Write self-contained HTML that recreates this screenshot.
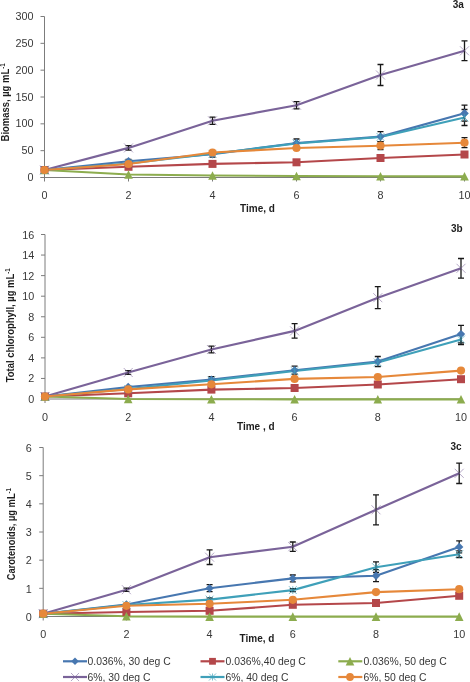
<!DOCTYPE html><html><head><meta charset="utf-8"><style>html,body{margin:0;padding:0;background:#fff;overflow:hidden}svg{display:block;filter:blur(0.4px)}</style></head><body>
<svg width="470" height="682" viewBox="0 0 470 682" font-family='"Liberation Sans", sans-serif'>
<rect width="470" height="682" fill="#fff"/>
<g stroke="#7c7c7c" stroke-width="1" fill="none">
<path d="M44.5 16.5V177.5"/>
<path d="M40.5 177.5H464.5"/>
<path d="M40.5 16.50H44.5"/>
<path d="M40.5 43.33H44.5"/>
<path d="M40.5 70.17H44.5"/>
<path d="M40.5 97.00H44.5"/>
<path d="M40.5 123.83H44.5"/>
<path d="M40.5 150.67H44.5"/>
<path d="M40.5 177.50H44.5"/>
<path d="M44.50 177.5V181.5"/>
<path d="M128.50 177.5V181.5"/>
<path d="M212.50 177.5V181.5"/>
<path d="M296.50 177.5V181.5"/>
<path d="M380.50 177.5V181.5"/>
<path d="M464.50 177.5V181.5"/>
</g>
<g font-size="10.8" fill="#383838">
<text x="33.5" y="181.10" text-anchor="end">0</text>
<text x="33.5" y="154.27" text-anchor="end">50</text>
<text x="33.5" y="127.43" text-anchor="end">100</text>
<text x="33.5" y="100.60" text-anchor="end">150</text>
<text x="33.5" y="73.77" text-anchor="end">200</text>
<text x="33.5" y="46.93" text-anchor="end">250</text>
<text x="33.5" y="20.10" text-anchor="end">300</text>
<text x="44.50" y="199.2" text-anchor="middle">0</text>
<text x="128.50" y="199.2" text-anchor="middle">2</text>
<text x="212.50" y="199.2" text-anchor="middle">4</text>
<text x="296.50" y="199.2" text-anchor="middle">6</text>
<text x="380.50" y="199.2" text-anchor="middle">8</text>
<text x="464.50" y="199.2" text-anchor="middle">10</text>
</g>
<text transform="translate(9.0,102.4) rotate(-90) scale(0.946,1)" text-anchor="middle" font-size="10" font-weight="bold" fill="#1e1e1e">Biomass, µg mL<tspan font-size="6.5" dy="-4">-1</tspan></text>
<text x="463.8" y="8.3" text-anchor="end" font-size="10" font-weight="bold" fill="#1e1e1e">3a</text>
<text x="257.5" y="212" text-anchor="middle" font-size="10" font-weight="bold" fill="#1e1e1e">Time, d</text>
<polyline points="44.50,170.00 128.50,161.30 212.50,154.20 296.50,143.00 380.50,136.60 464.50,113.20" fill="none" stroke="#4777B0" stroke-width="2.15" stroke-linejoin="round"/>
<polyline points="44.50,170.00 128.50,166.80 212.50,163.90 296.50,162.30 380.50,158.00 464.50,154.50" fill="none" stroke="#B4474A" stroke-width="2.15" stroke-linejoin="round"/>
<polyline points="44.50,170.00 128.50,174.50 212.50,175.50 296.50,176.00 380.50,176.20 464.50,176.30" fill="none" stroke="#8CAC4E" stroke-width="2.15" stroke-linejoin="round"/>
<polyline points="44.50,170.00 128.50,147.90 212.50,120.80 296.50,105.20 380.50,75.00 464.50,50.80" fill="none" stroke="#7A6399" stroke-width="2.15" stroke-linejoin="round"/>
<polyline points="44.50,170.00 128.50,163.50 212.50,153.80 296.50,143.50 380.50,137.00 464.50,117.50" fill="none" stroke="#3FA0B9" stroke-width="2.15" stroke-linejoin="round"/>
<polyline points="44.50,170.00 128.50,164.00 212.50,152.50 296.50,148.00 380.50,145.70 464.50,142.70" fill="none" stroke="#E6883A" stroke-width="2.15" stroke-linejoin="round"/>
<path d="M128.50 159.30V163.30M125.50 159.30H131.50M125.50 163.30H131.50" stroke="#181818" stroke-width="1.3" fill="none"/>
<path d="M212.50 151.20V157.20M209.50 151.20H215.50M209.50 157.20H215.50" stroke="#181818" stroke-width="1.3" fill="none"/>
<path d="M296.50 139.00V147.00M293.50 139.00H299.50M293.50 147.00H299.50" stroke="#181818" stroke-width="1.3" fill="none"/>
<path d="M380.50 131.60V141.60M377.50 131.60H383.50M377.50 141.60H383.50" stroke="#181818" stroke-width="1.3" fill="none"/>
<path d="M464.50 105.20V121.20M461.50 105.20H467.50M461.50 121.20H467.50" stroke="#181818" stroke-width="1.3" fill="none"/>
<path d="M128.50 145.60V150.20M125.50 145.60H131.50M125.50 150.20H131.50" stroke="#181818" stroke-width="1.3" fill="none"/>
<path d="M212.50 117.20V124.40M209.50 117.20H215.50M209.50 124.40H215.50" stroke="#181818" stroke-width="1.3" fill="none"/>
<path d="M296.50 101.60V108.80M293.50 101.60H299.50M293.50 108.80H299.50" stroke="#181818" stroke-width="1.3" fill="none"/>
<path d="M380.50 64.50V85.50M377.50 64.50H383.50M377.50 85.50H383.50" stroke="#181818" stroke-width="1.3" fill="none"/>
<path d="M464.50 40.90V60.70M461.50 40.90H467.50M461.50 60.70H467.50" stroke="#181818" stroke-width="1.3" fill="none"/>
<path d="M464.50 109.50V125.50M461.50 109.50H467.50M461.50 125.50H467.50" stroke="#181818" stroke-width="1.3" fill="none"/>
<path d="M380.50 141.70V149.70M377.50 141.70H383.50M377.50 149.70H383.50" stroke="#181818" stroke-width="1.3" fill="none"/>
<path d="M464.50 137.70V147.70M461.50 137.70H467.50M461.50 147.70H467.50" stroke="#181818" stroke-width="1.3" fill="none"/>
<path d="M44.50 165.80L48.70 170.00L44.50 174.20L40.30 170.00Z" fill="#4777B0"/>
<path d="M128.50 157.10L132.70 161.30L128.50 165.50L124.30 161.30Z" fill="#4777B0"/>
<path d="M212.50 150.00L216.70 154.20L212.50 158.40L208.30 154.20Z" fill="#4777B0"/>
<path d="M296.50 138.80L300.70 143.00L296.50 147.20L292.30 143.00Z" fill="#4777B0"/>
<path d="M380.50 132.40L384.70 136.60L380.50 140.80L376.30 136.60Z" fill="#4777B0"/>
<path d="M464.50 109.00L468.70 113.20L464.50 117.40L460.30 113.20Z" fill="#4777B0"/>
<rect x="40.50" y="166.00" width="8.00" height="8.00" fill="#B4474A"/>
<rect x="124.50" y="162.80" width="8.00" height="8.00" fill="#B4474A"/>
<rect x="208.50" y="159.90" width="8.00" height="8.00" fill="#B4474A"/>
<rect x="292.50" y="158.30" width="8.00" height="8.00" fill="#B4474A"/>
<rect x="376.50" y="154.00" width="8.00" height="8.00" fill="#B4474A"/>
<rect x="460.50" y="150.50" width="8.00" height="8.00" fill="#B4474A"/>
<path d="M44.50 165.70L48.80 174.30L40.20 174.30Z" fill="#8CAC4E"/>
<path d="M128.50 170.20L132.80 178.80L124.20 178.80Z" fill="#8CAC4E"/>
<path d="M212.50 171.20L216.80 179.80L208.20 179.80Z" fill="#8CAC4E"/>
<path d="M296.50 171.70L300.80 180.30L292.20 180.30Z" fill="#8CAC4E"/>
<path d="M380.50 171.90L384.80 180.50L376.20 180.50Z" fill="#8CAC4E"/>
<path d="M464.50 172.00L468.80 180.60L460.20 180.60Z" fill="#8CAC4E"/>
<path d="M40.00 165.50L49.00 174.50M49.00 165.50L40.00 174.50" stroke="#7A6399" stroke-width="0.8" stroke-opacity="0.7" fill="none"/>
<path d="M124.00 143.40L133.00 152.40M133.00 143.40L124.00 152.40" stroke="#7A6399" stroke-width="0.8" stroke-opacity="0.7" fill="none"/>
<path d="M208.00 116.30L217.00 125.30M217.00 116.30L208.00 125.30" stroke="#7A6399" stroke-width="0.8" stroke-opacity="0.7" fill="none"/>
<path d="M292.00 100.70L301.00 109.70M301.00 100.70L292.00 109.70" stroke="#7A6399" stroke-width="0.8" stroke-opacity="0.7" fill="none"/>
<path d="M376.00 70.50L385.00 79.50M385.00 70.50L376.00 79.50" stroke="#7A6399" stroke-width="0.8" stroke-opacity="0.7" fill="none"/>
<path d="M460.00 46.30L469.00 55.30M469.00 46.30L460.00 55.30" stroke="#7A6399" stroke-width="0.8" stroke-opacity="0.7" fill="none"/>
<path d="M40.60 166.10L48.40 173.90M48.40 166.10L40.60 173.90M44.50 166.10L44.50 173.90" stroke="#3FA0B9" stroke-width="0.85" stroke-opacity="0.8" fill="none"/>
<path d="M124.60 159.60L132.40 167.40M132.40 159.60L124.60 167.40M128.50 159.60L128.50 167.40" stroke="#3FA0B9" stroke-width="0.85" stroke-opacity="0.8" fill="none"/>
<path d="M208.60 149.90L216.40 157.70M216.40 149.90L208.60 157.70M212.50 149.90L212.50 157.70" stroke="#3FA0B9" stroke-width="0.85" stroke-opacity="0.8" fill="none"/>
<path d="M292.60 139.60L300.40 147.40M300.40 139.60L292.60 147.40M296.50 139.60L296.50 147.40" stroke="#3FA0B9" stroke-width="0.85" stroke-opacity="0.8" fill="none"/>
<path d="M376.60 133.10L384.40 140.90M384.40 133.10L376.60 140.90M380.50 133.10L380.50 140.90" stroke="#3FA0B9" stroke-width="0.85" stroke-opacity="0.8" fill="none"/>
<path d="M460.60 113.60L468.40 121.40M468.40 113.60L460.60 121.40M464.50 113.60L464.50 121.40" stroke="#3FA0B9" stroke-width="0.85" stroke-opacity="0.8" fill="none"/>
<circle cx="44.50" cy="170.00" r="4.10" fill="#E6883A"/>
<circle cx="128.50" cy="164.00" r="4.10" fill="#E6883A"/>
<circle cx="212.50" cy="152.50" r="4.10" fill="#E6883A"/>
<circle cx="296.50" cy="148.00" r="4.10" fill="#E6883A"/>
<circle cx="380.50" cy="145.70" r="4.10" fill="#E6883A"/>
<circle cx="464.50" cy="142.70" r="4.10" fill="#E6883A"/>
<g stroke="#7c7c7c" stroke-width="1" fill="none">
<path d="M45.0 234.5V399.0"/>
<path d="M41.0 399.0H461.0"/>
<path d="M41.0 234.50H45.0"/>
<path d="M41.0 255.06H45.0"/>
<path d="M41.0 275.62H45.0"/>
<path d="M41.0 296.19H45.0"/>
<path d="M41.0 316.75H45.0"/>
<path d="M41.0 337.31H45.0"/>
<path d="M41.0 357.88H45.0"/>
<path d="M41.0 378.44H45.0"/>
<path d="M41.0 399.00H45.0"/>
<path d="M45.00 399.0V403.0"/>
<path d="M128.20 399.0V403.0"/>
<path d="M211.40 399.0V403.0"/>
<path d="M294.60 399.0V403.0"/>
<path d="M377.80 399.0V403.0"/>
<path d="M461.00 399.0V403.0"/>
</g>
<g font-size="10.8" fill="#383838">
<text x="34.2" y="403.00" text-anchor="end">0</text>
<text x="34.2" y="382.44" text-anchor="end">2</text>
<text x="34.2" y="361.88" text-anchor="end">4</text>
<text x="34.2" y="341.31" text-anchor="end">6</text>
<text x="34.2" y="320.75" text-anchor="end">8</text>
<text x="34.2" y="300.19" text-anchor="end">10</text>
<text x="34.2" y="279.62" text-anchor="end">12</text>
<text x="34.2" y="259.06" text-anchor="end">14</text>
<text x="34.2" y="238.50" text-anchor="end">16</text>
<text x="45.00" y="421.0" text-anchor="middle">0</text>
<text x="128.20" y="421.0" text-anchor="middle">2</text>
<text x="211.40" y="421.0" text-anchor="middle">4</text>
<text x="294.60" y="421.0" text-anchor="middle">6</text>
<text x="377.80" y="421.0" text-anchor="middle">8</text>
<text x="461.00" y="421.0" text-anchor="middle">10</text>
</g>
<text transform="translate(14.2,325.3) rotate(-90) scale(0.945,1)" text-anchor="middle" font-size="10" font-weight="bold" fill="#1e1e1e">Total chlorophyll, µg mL<tspan font-size="6.5" dy="-4">-1</tspan></text>
<text x="462.6" y="232.3" text-anchor="end" font-size="10" font-weight="bold" fill="#1e1e1e">3b</text>
<text x="255.8" y="429.8" text-anchor="middle" font-size="10" font-weight="bold" fill="#1e1e1e">Time , d</text>
<polyline points="45.00,396.50 128.20,387.00 211.40,379.60 294.60,370.20 377.80,361.50 461.00,334.10" fill="none" stroke="#4777B0" stroke-width="2.15" stroke-linejoin="round"/>
<polyline points="45.00,396.50 128.20,393.30 211.40,389.60 294.60,388.00 377.80,384.50 461.00,379.20" fill="none" stroke="#B4474A" stroke-width="2.15" stroke-linejoin="round"/>
<polyline points="45.00,396.50 128.20,399.00 211.40,399.30 294.60,399.30 377.80,399.30 461.00,399.30" fill="none" stroke="#8CAC4E" stroke-width="2.15" stroke-linejoin="round"/>
<polyline points="45.00,396.50 128.20,372.50 211.40,349.50 294.60,330.90 377.80,297.70 461.00,268.30" fill="none" stroke="#7A6399" stroke-width="2.15" stroke-linejoin="round"/>
<polyline points="45.00,396.50 128.20,389.00 211.40,380.50 294.60,371.00 377.80,362.50 461.00,339.50" fill="none" stroke="#3FA0B9" stroke-width="2.15" stroke-linejoin="round"/>
<polyline points="45.00,396.50 128.20,389.40 211.40,384.30 294.60,378.90 377.80,377.00 461.00,370.60" fill="none" stroke="#E6883A" stroke-width="2.15" stroke-linejoin="round"/>
<path d="M211.40 376.60V382.60M208.40 376.60H214.40M208.40 382.60H214.40" stroke="#181818" stroke-width="1.3" fill="none"/>
<path d="M294.60 366.20V374.20M291.60 366.20H297.60M291.60 374.20H297.60" stroke="#181818" stroke-width="1.3" fill="none"/>
<path d="M377.80 356.50V366.50M374.80 356.50H380.80M374.80 366.50H380.80" stroke="#181818" stroke-width="1.3" fill="none"/>
<path d="M461.00 325.30V342.90M458.00 325.30H464.00M458.00 342.90H464.00" stroke="#181818" stroke-width="1.3" fill="none"/>
<path d="M128.20 370.70V374.30M125.20 370.70H131.20M125.20 374.30H131.20" stroke="#181818" stroke-width="1.3" fill="none"/>
<path d="M211.40 346.10V352.90M208.40 346.10H214.40M208.40 352.90H214.40" stroke="#181818" stroke-width="1.3" fill="none"/>
<path d="M294.60 323.60V338.20M291.60 323.60H297.60M291.60 338.20H297.60" stroke="#181818" stroke-width="1.3" fill="none"/>
<path d="M377.80 286.70V308.70M374.80 286.70H380.80M374.80 308.70H380.80" stroke="#181818" stroke-width="1.3" fill="none"/>
<path d="M461.00 258.50V278.10M458.00 258.50H464.00M458.00 278.10H464.00" stroke="#181818" stroke-width="1.3" fill="none"/>
<path d="M461.00 334.50V344.50M458.00 334.50H464.00M458.00 344.50H464.00" stroke="#181818" stroke-width="1.3" fill="none"/>
<path d="M45.00 392.30L49.20 396.50L45.00 400.70L40.80 396.50Z" fill="#4777B0"/>
<path d="M128.20 382.80L132.40 387.00L128.20 391.20L124.00 387.00Z" fill="#4777B0"/>
<path d="M211.40 375.40L215.60 379.60L211.40 383.80L207.20 379.60Z" fill="#4777B0"/>
<path d="M294.60 366.00L298.80 370.20L294.60 374.40L290.40 370.20Z" fill="#4777B0"/>
<path d="M377.80 357.30L382.00 361.50L377.80 365.70L373.60 361.50Z" fill="#4777B0"/>
<path d="M461.00 329.90L465.20 334.10L461.00 338.30L456.80 334.10Z" fill="#4777B0"/>
<rect x="41.00" y="392.50" width="8.00" height="8.00" fill="#B4474A"/>
<rect x="124.20" y="389.30" width="8.00" height="8.00" fill="#B4474A"/>
<rect x="207.40" y="385.60" width="8.00" height="8.00" fill="#B4474A"/>
<rect x="290.60" y="384.00" width="8.00" height="8.00" fill="#B4474A"/>
<rect x="373.80" y="380.50" width="8.00" height="8.00" fill="#B4474A"/>
<rect x="457.00" y="375.20" width="8.00" height="8.00" fill="#B4474A"/>
<path d="M45.00 392.20L49.30 400.80L40.70 400.80Z" fill="#8CAC4E"/>
<path d="M128.20 394.70L132.50 403.30L123.90 403.30Z" fill="#8CAC4E"/>
<path d="M211.40 395.00L215.70 403.60L207.10 403.60Z" fill="#8CAC4E"/>
<path d="M294.60 395.00L298.90 403.60L290.30 403.60Z" fill="#8CAC4E"/>
<path d="M377.80 395.00L382.10 403.60L373.50 403.60Z" fill="#8CAC4E"/>
<path d="M461.00 395.00L465.30 403.60L456.70 403.60Z" fill="#8CAC4E"/>
<path d="M40.50 392.00L49.50 401.00M49.50 392.00L40.50 401.00" stroke="#7A6399" stroke-width="0.8" stroke-opacity="0.7" fill="none"/>
<path d="M123.70 368.00L132.70 377.00M132.70 368.00L123.70 377.00" stroke="#7A6399" stroke-width="0.8" stroke-opacity="0.7" fill="none"/>
<path d="M206.90 345.00L215.90 354.00M215.90 345.00L206.90 354.00" stroke="#7A6399" stroke-width="0.8" stroke-opacity="0.7" fill="none"/>
<path d="M290.10 326.40L299.10 335.40M299.10 326.40L290.10 335.40" stroke="#7A6399" stroke-width="0.8" stroke-opacity="0.7" fill="none"/>
<path d="M373.30 293.20L382.30 302.20M382.30 293.20L373.30 302.20" stroke="#7A6399" stroke-width="0.8" stroke-opacity="0.7" fill="none"/>
<path d="M456.50 263.80L465.50 272.80M465.50 263.80L456.50 272.80" stroke="#7A6399" stroke-width="0.8" stroke-opacity="0.7" fill="none"/>
<path d="M41.10 392.60L48.90 400.40M48.90 392.60L41.10 400.40M45.00 392.60L45.00 400.40" stroke="#3FA0B9" stroke-width="0.85" stroke-opacity="0.8" fill="none"/>
<path d="M124.30 385.10L132.10 392.90M132.10 385.10L124.30 392.90M128.20 385.10L128.20 392.90" stroke="#3FA0B9" stroke-width="0.85" stroke-opacity="0.8" fill="none"/>
<path d="M207.50 376.60L215.30 384.40M215.30 376.60L207.50 384.40M211.40 376.60L211.40 384.40" stroke="#3FA0B9" stroke-width="0.85" stroke-opacity="0.8" fill="none"/>
<path d="M290.70 367.10L298.50 374.90M298.50 367.10L290.70 374.90M294.60 367.10L294.60 374.90" stroke="#3FA0B9" stroke-width="0.85" stroke-opacity="0.8" fill="none"/>
<path d="M373.90 358.60L381.70 366.40M381.70 358.60L373.90 366.40M377.80 358.60L377.80 366.40" stroke="#3FA0B9" stroke-width="0.85" stroke-opacity="0.8" fill="none"/>
<path d="M457.10 335.60L464.90 343.40M464.90 335.60L457.10 343.40M461.00 335.60L461.00 343.40" stroke="#3FA0B9" stroke-width="0.85" stroke-opacity="0.8" fill="none"/>
<circle cx="45.00" cy="396.50" r="4.10" fill="#E6883A"/>
<circle cx="128.20" cy="389.40" r="4.10" fill="#E6883A"/>
<circle cx="211.40" cy="384.30" r="4.10" fill="#E6883A"/>
<circle cx="294.60" cy="378.90" r="4.10" fill="#E6883A"/>
<circle cx="377.80" cy="377.00" r="4.10" fill="#E6883A"/>
<circle cx="461.00" cy="370.60" r="4.10" fill="#E6883A"/>
<g stroke="#7c7c7c" stroke-width="1" fill="none">
<path d="M43.2 447.5V616.5"/>
<path d="M39.2 616.5H459.2"/>
<path d="M39.2 447.50H43.2"/>
<path d="M39.2 475.67H43.2"/>
<path d="M39.2 503.83H43.2"/>
<path d="M39.2 532.00H43.2"/>
<path d="M39.2 560.17H43.2"/>
<path d="M39.2 588.33H43.2"/>
<path d="M39.2 616.50H43.2"/>
<path d="M43.20 616.5V620.5"/>
<path d="M126.40 616.5V620.5"/>
<path d="M209.60 616.5V620.5"/>
<path d="M292.80 616.5V620.5"/>
<path d="M376.00 616.5V620.5"/>
<path d="M459.20 616.5V620.5"/>
</g>
<g font-size="10.8" fill="#383838">
<text x="31.8" y="620.70" text-anchor="end">0</text>
<text x="31.8" y="592.53" text-anchor="end">1</text>
<text x="31.8" y="564.37" text-anchor="end">2</text>
<text x="31.8" y="536.20" text-anchor="end">3</text>
<text x="31.8" y="508.03" text-anchor="end">4</text>
<text x="31.8" y="479.87" text-anchor="end">5</text>
<text x="31.8" y="451.70" text-anchor="end">6</text>
<text x="43.20" y="637.8" text-anchor="middle">0</text>
<text x="126.40" y="637.8" text-anchor="middle">2</text>
<text x="209.60" y="637.8" text-anchor="middle">4</text>
<text x="292.80" y="637.8" text-anchor="middle">6</text>
<text x="376.00" y="637.8" text-anchor="middle">8</text>
<text x="459.20" y="637.8" text-anchor="middle">10</text>
</g>
<text transform="translate(14.6,534.2) rotate(-90) scale(0.93,1)" text-anchor="middle" font-size="10" font-weight="bold" fill="#1e1e1e">Carotenoids, µg mL<tspan font-size="6.5" dy="-4">-1</tspan></text>
<text x="461.6" y="449.8" text-anchor="end" font-size="10" font-weight="bold" fill="#1e1e1e">3c</text>
<text x="257" y="642.3" text-anchor="middle" font-size="10" font-weight="bold" fill="#1e1e1e">Time, d</text>
<polyline points="43.20,613.70 126.40,604.50 209.60,588.20 292.80,578.40 376.00,575.70 459.20,546.90" fill="none" stroke="#4777B0" stroke-width="2.15" stroke-linejoin="round"/>
<polyline points="43.20,613.70 126.40,612.00 209.60,610.80 292.80,604.80 376.00,603.00 459.20,595.80" fill="none" stroke="#B4474A" stroke-width="2.15" stroke-linejoin="round"/>
<polyline points="43.20,613.70 126.40,616.30 209.60,616.60 292.80,616.60 376.00,616.60 459.20,616.60" fill="none" stroke="#8CAC4E" stroke-width="2.15" stroke-linejoin="round"/>
<polyline points="43.20,613.70 126.40,589.70 209.60,557.20 292.80,546.70 376.00,509.80 459.20,473.30" fill="none" stroke="#7A6399" stroke-width="2.15" stroke-linejoin="round"/>
<polyline points="43.20,613.70 126.40,605.00 209.60,599.60 292.80,590.10 376.00,567.20 459.20,554.20" fill="none" stroke="#3FA0B9" stroke-width="2.15" stroke-linejoin="round"/>
<polyline points="43.20,613.70 126.40,605.80 209.60,603.80 292.80,599.80 376.00,592.10 459.20,589.20" fill="none" stroke="#E6883A" stroke-width="2.15" stroke-linejoin="round"/>
<path d="M209.60 584.70V591.70M206.60 584.70H212.60M206.60 591.70H212.60" stroke="#181818" stroke-width="1.3" fill="none"/>
<path d="M292.80 575.00V581.80M289.80 575.00H295.80M289.80 581.80H295.80" stroke="#181818" stroke-width="1.3" fill="none"/>
<path d="M376.00 569.70V581.70M373.00 569.70H379.00M373.00 581.70H379.00" stroke="#181818" stroke-width="1.3" fill="none"/>
<path d="M459.20 540.90V552.90M456.20 540.90H462.20M456.20 552.90H462.20" stroke="#181818" stroke-width="1.3" fill="none"/>
<path d="M126.40 588.10V591.30M123.40 588.10H129.40M123.40 591.30H129.40" stroke="#181818" stroke-width="1.3" fill="none"/>
<path d="M209.60 549.90V564.50M206.60 549.90H212.60M206.60 564.50H212.60" stroke="#181818" stroke-width="1.3" fill="none"/>
<path d="M292.80 542.00V551.40M289.80 542.00H295.80M289.80 551.40H295.80" stroke="#181818" stroke-width="1.3" fill="none"/>
<path d="M376.00 494.80V524.80M373.00 494.80H379.00M373.00 524.80H379.00" stroke="#181818" stroke-width="1.3" fill="none"/>
<path d="M459.20 463.10V483.50M456.20 463.10H462.20M456.20 483.50H462.20" stroke="#181818" stroke-width="1.3" fill="none"/>
<path d="M209.60 597.80V601.40M206.60 597.80H212.60M206.60 601.40H212.60" stroke="#181818" stroke-width="1.3" fill="none"/>
<path d="M292.80 588.60V591.60M289.80 588.60H295.80M289.80 591.60H295.80" stroke="#181818" stroke-width="1.3" fill="none"/>
<path d="M376.00 561.90V572.50M373.00 561.90H379.00M373.00 572.50H379.00" stroke="#181818" stroke-width="1.3" fill="none"/>
<path d="M459.20 550.90V557.50M456.20 550.90H462.20M456.20 557.50H462.20" stroke="#181818" stroke-width="1.3" fill="none"/>
<path d="M43.20 609.50L47.40 613.70L43.20 617.90L39.00 613.70Z" fill="#4777B0"/>
<path d="M126.40 600.30L130.60 604.50L126.40 608.70L122.20 604.50Z" fill="#4777B0"/>
<path d="M209.60 584.00L213.80 588.20L209.60 592.40L205.40 588.20Z" fill="#4777B0"/>
<path d="M292.80 574.20L297.00 578.40L292.80 582.60L288.60 578.40Z" fill="#4777B0"/>
<path d="M376.00 571.50L380.20 575.70L376.00 579.90L371.80 575.70Z" fill="#4777B0"/>
<path d="M459.20 542.70L463.40 546.90L459.20 551.10L455.00 546.90Z" fill="#4777B0"/>
<rect x="39.20" y="609.70" width="8.00" height="8.00" fill="#B4474A"/>
<rect x="122.40" y="608.00" width="8.00" height="8.00" fill="#B4474A"/>
<rect x="205.60" y="606.80" width="8.00" height="8.00" fill="#B4474A"/>
<rect x="288.80" y="600.80" width="8.00" height="8.00" fill="#B4474A"/>
<rect x="372.00" y="599.00" width="8.00" height="8.00" fill="#B4474A"/>
<rect x="455.20" y="591.80" width="8.00" height="8.00" fill="#B4474A"/>
<path d="M43.20 609.40L47.50 618.00L38.90 618.00Z" fill="#8CAC4E"/>
<path d="M126.40 612.00L130.70 620.60L122.10 620.60Z" fill="#8CAC4E"/>
<path d="M209.60 612.30L213.90 620.90L205.30 620.90Z" fill="#8CAC4E"/>
<path d="M292.80 612.30L297.10 620.90L288.50 620.90Z" fill="#8CAC4E"/>
<path d="M376.00 612.30L380.30 620.90L371.70 620.90Z" fill="#8CAC4E"/>
<path d="M459.20 612.30L463.50 620.90L454.90 620.90Z" fill="#8CAC4E"/>
<path d="M38.70 609.20L47.70 618.20M47.70 609.20L38.70 618.20" stroke="#7A6399" stroke-width="0.8" stroke-opacity="0.7" fill="none"/>
<path d="M121.90 585.20L130.90 594.20M130.90 585.20L121.90 594.20" stroke="#7A6399" stroke-width="0.8" stroke-opacity="0.7" fill="none"/>
<path d="M205.10 552.70L214.10 561.70M214.10 552.70L205.10 561.70" stroke="#7A6399" stroke-width="0.8" stroke-opacity="0.7" fill="none"/>
<path d="M288.30 542.20L297.30 551.20M297.30 542.20L288.30 551.20" stroke="#7A6399" stroke-width="0.8" stroke-opacity="0.7" fill="none"/>
<path d="M371.50 505.30L380.50 514.30M380.50 505.30L371.50 514.30" stroke="#7A6399" stroke-width="0.8" stroke-opacity="0.7" fill="none"/>
<path d="M454.70 468.80L463.70 477.80M463.70 468.80L454.70 477.80" stroke="#7A6399" stroke-width="0.8" stroke-opacity="0.7" fill="none"/>
<path d="M39.30 609.80L47.10 617.60M47.10 609.80L39.30 617.60M43.20 609.80L43.20 617.60" stroke="#3FA0B9" stroke-width="0.85" stroke-opacity="0.8" fill="none"/>
<path d="M122.50 601.10L130.30 608.90M130.30 601.10L122.50 608.90M126.40 601.10L126.40 608.90" stroke="#3FA0B9" stroke-width="0.85" stroke-opacity="0.8" fill="none"/>
<path d="M205.70 595.70L213.50 603.50M213.50 595.70L205.70 603.50M209.60 595.70L209.60 603.50" stroke="#3FA0B9" stroke-width="0.85" stroke-opacity="0.8" fill="none"/>
<path d="M288.90 586.20L296.70 594.00M296.70 586.20L288.90 594.00M292.80 586.20L292.80 594.00" stroke="#3FA0B9" stroke-width="0.85" stroke-opacity="0.8" fill="none"/>
<path d="M372.10 563.30L379.90 571.10M379.90 563.30L372.10 571.10M376.00 563.30L376.00 571.10" stroke="#3FA0B9" stroke-width="0.85" stroke-opacity="0.8" fill="none"/>
<path d="M455.30 550.30L463.10 558.10M463.10 550.30L455.30 558.10M459.20 550.30L459.20 558.10" stroke="#3FA0B9" stroke-width="0.85" stroke-opacity="0.8" fill="none"/>
<circle cx="43.20" cy="613.70" r="4.10" fill="#E6883A"/>
<circle cx="126.40" cy="605.80" r="4.10" fill="#E6883A"/>
<circle cx="209.60" cy="603.80" r="4.10" fill="#E6883A"/>
<circle cx="292.80" cy="599.80" r="4.10" fill="#E6883A"/>
<circle cx="376.00" cy="592.10" r="4.10" fill="#E6883A"/>
<circle cx="459.20" cy="589.20" r="4.10" fill="#E6883A"/>
<path d="M63 661.3H87" stroke="#4777B0" stroke-width="2.2"/>
<path d="M75.00 657.52L78.78 661.30L75.00 665.08L71.22 661.30Z" fill="#4777B0"/>
<text x="87.5" y="665.0999999999999" font-size="10.4" fill="#383838">0.036%, 30 deg C</text>
<path d="M200.5 661.3H224.5" stroke="#B4474A" stroke-width="2.2"/>
<rect x="209.10" y="657.90" width="6.80" height="6.80" fill="#B4474A"/>
<text x="225.5" y="665.0999999999999" font-size="10.4" fill="#383838">0.036%,40 deg C</text>
<path d="M338.3 661.3H362.3" stroke="#8CAC4E" stroke-width="2.2"/>
<path d="M350.00 657.00L354.30 665.60L345.70 665.60Z" fill="#8CAC4E"/>
<text x="363.5" y="665.0999999999999" font-size="10.4" fill="#383838">0.036%, 50 deg C</text>
<path d="M63 677H87" stroke="#7A6399" stroke-width="2.2"/>
<path d="M70.95 672.95L79.05 681.05M79.05 672.95L70.95 681.05" stroke="#7A6399" stroke-width="0.8" stroke-opacity="0.7" fill="none"/>
<text x="87.5" y="680.8" font-size="10.4" fill="#383838">6%, 30 deg C</text>
<path d="M200.5 677H224.5" stroke="#3FA0B9" stroke-width="2.2"/>
<path d="M208.99 673.49L216.01 680.51M216.01 673.49L208.99 680.51M212.50 673.49L212.50 680.51" stroke="#3FA0B9" stroke-width="0.85" stroke-opacity="0.8" fill="none"/>
<text x="225.5" y="680.8" font-size="10.4" fill="#383838">6%, 40 deg C</text>
<path d="M338.3 677H362.3" stroke="#E6883A" stroke-width="2.2"/>
<circle cx="350.00" cy="677.00" r="3.89" fill="#E6883A"/>
<text x="363.5" y="680.8" font-size="10.4" fill="#383838">6%, 50 deg C</text>
</svg></body></html>
